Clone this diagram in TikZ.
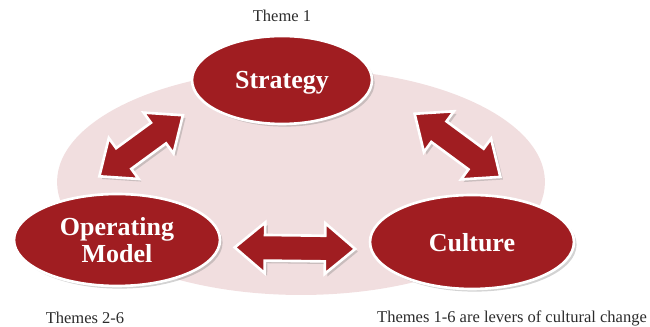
\documentclass[tikz,border=0pt]{standalone}
\usepackage{fontspec}
\setmainfont{Liberation Serif}
\usetikzlibrary{positioning}
\usetikzlibrary{shapes.geometric}
\usetikzlibrary{shapes.arrows}
\usetikzlibrary{shadows}

\definecolor{darkred}{HTML}{A01D21}
\definecolor{palepink}{HTML}{F1DEDF}
\definecolor{textgray}{HTML}{2B2B2B}

\begin{document}
\begin{tikzpicture}[
            x = 0.02cm,
            y = -0.02cm,
            theme/.style = {
                draw = white,
                line width = 1.5pt,
                ellipse,
                fill = darkred,
                text = white,
                font = \bfseries\fontsize{14.8}{15.5}\selectfont,
                align = center,
                inner sep = 0pt,
                text depth = 0pt,
                drop shadow = {opacity = 0.35, shadow xshift = 1.5pt, shadow yshift = -1.5pt}
            },
            dblarrow/.style = {
                double arrow,
                draw = white,
                line width = 1.5pt,
                fill = darkred,
                minimum height = #1,
                inner sep = 0.23cm,
                double arrow head extend = 0.25cm,
                double arrow tip angle = 80,
                drop shadow = {opacity = 0.35, shadow xshift = 1.5pt, shadow yshift = -1.5pt}
            },
            note/.style = {
                font = \fontsize{9.4}{11}\selectfont,
                text = textgray,
                inner sep = 0pt
            }
            ]
            \useasboundingbox (0,0) rectangle (650,327);

            % pale backdrop
            \fill[palepink] (301,182) ellipse [x radius = 4.88cm, y radius = 2.26cm];

            \node[theme, minimum width = 3.6cm, minimum height = 1.76cm] (st) at (282,80) {Strategy};
            \node[theme, minimum width = 4.12cm, minimum height = 1.84cm] (om) at (117,240) {Operating\\Model};
            \node[theme, minimum width = 4.08cm, minimum height = 1.88cm] (cu) at (472,242) {Culture};

            \path (om.138) -- (st.195) node[dblarrow = 2.07cm, sloped, pos = 0.54] (a1) {};
            \path (st.358) -- (cu.29) node[dblarrow = 2.13cm, sloped, pos = 0.51] (a2) {};
            \path (om.-4) -- (cu.184) node[dblarrow = 2.41cm, sloped, pos = 0.5] (a3) {};

            \node[note] (t1) at (282,16) {Theme 1};
            \node[note] (t2) at (85,318) {Themes 2-6};
            \node[note] (t3) at (512,318) {Themes 1-6 are levers of cultural change};
        \end{tikzpicture}
\end{document}
